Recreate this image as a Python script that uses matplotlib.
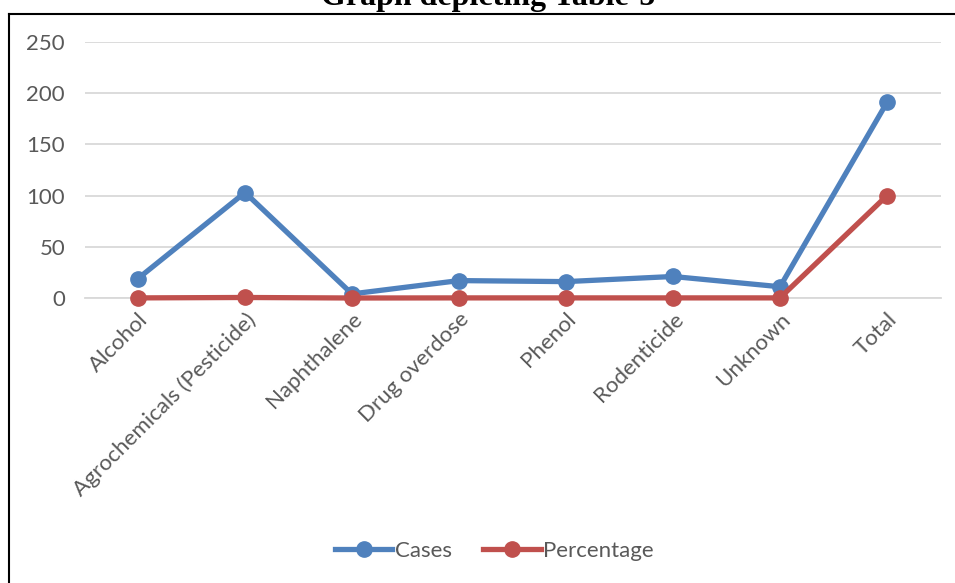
import matplotlib.pyplot as plt
from matplotlib.lines import Line2D

categories = ["Alcohol", "Agrochemicals (Pesticide)", "Naphthalene", "Drug overdose",
              "Phenol", "Rodenticide", "Unknown", "Total"]
cases = [19, 103, 4, 17, 16, 21, 11, 191]
percentage = [0.1, 0.5, 0.0, 0.1, 0.1, 0.1, 0.1, 100]
yticks = [0, 50, 100, 150, 200, 250]

plt.rcParams['font.family'] = ['Lato', 'DejaVu Sans']

W, H = 955, 583
fig = plt.figure(figsize=(W / 100, H / 100), dpi=100)
ax = fig.add_axes([84.5 / W, 1 - 298 / H, (940.5 - 84.5) / W, (298 - 42) / H])

x = range(len(categories))
ax.plot(x, cases, color='#4f81bd', lw=3.8, marker='o', ms=11, label='Cases',
        clip_on=False, zorder=3)
ax.plot(x, percentage, color='#c0504d', lw=3.8, marker='o', ms=11, label='Percentage',
        clip_on=False, zorder=3)

ax.set_xlim(-0.5, len(categories) - 0.5)
ax.set_ylim(0, 250)
ax.set_yticks(yticks)
ax.grid(axis='y', color='#d9d9d9', lw=1.3)
ax.set_axisbelow(True)
for s in ['top', 'right', 'left']:
    ax.spines[s].set_visible(False)
ax.spines['bottom'].set_color('#d9d9d9')
ax.spines['bottom'].set_linewidth(1.3)
ax.tick_params(axis='both', length=0, colors='#595959', labelsize=16)
ax.tick_params(axis='y', pad=14)
ax.set_xticks(list(x))
ax.set_xticklabels(categories, rotation=45, ha='right', rotation_mode='anchor')
ax.tick_params(axis='x', pad=8)

ax.legend(loc='center', bbox_to_anchor=(494 / W, 1 - 551 / H),
          bbox_transform=fig.transFigure, ncol=2, frameon=False, fontsize=16,
          labelcolor='#595959', handlelength=2.6, columnspacing=1.4, handletextpad=0.1)

fig.text(488 / W, 1 - 5 / H, "Graph depicting Table-5", ha='center', va='baseline',
         family='Liberation Serif', weight='bold', fontsize=23)

# chart border (top and left edges visible)
fig.add_artist(Line2D([9 / W, 1.0], [1 - 14 / H, 1 - 14 / H], color='black', lw=1.5,
                      transform=fig.transFigure))
fig.add_artist(Line2D([9 / W, 9 / W], [1 - 14 / H, 0], color='black', lw=1.5,
                      transform=fig.transFigure))

fig.savefig('out.png', dpi=100)
